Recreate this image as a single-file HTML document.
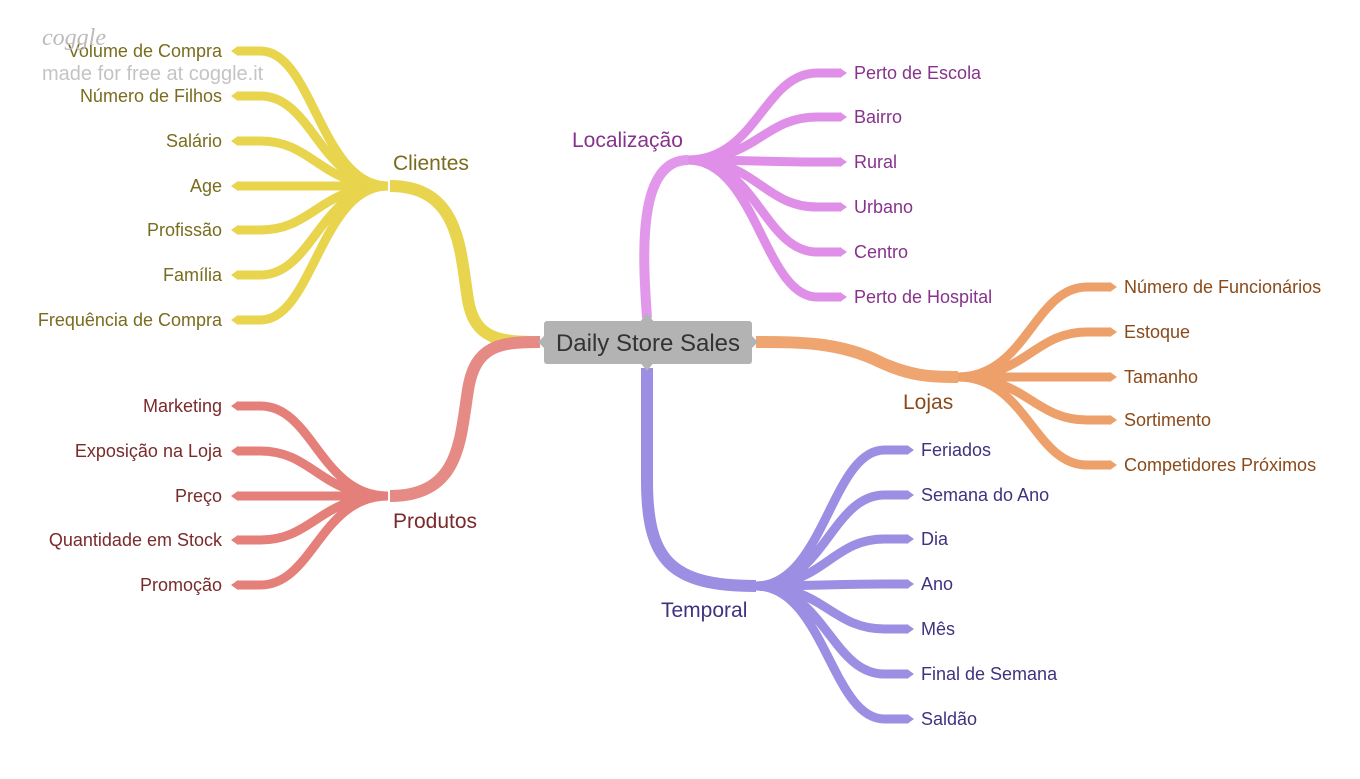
<!DOCTYPE html>
<html><head><meta charset="utf-8"><style>
html,body{margin:0;padding:0;background:#fff;}
svg{display:block;font-family:"Liberation Sans",sans-serif;}
</style></head><body>
<svg id="map" width="1360" height="779" viewBox="0 0 1360 779" xmlns="http://www.w3.org/2000/svg">
<g id="branches"></g>
<g id="labels"></g>
<g>
<rect x="544" y="321" width="208" height="43" rx="3" fill="#b3b3b3"/>
<path d="M538,342 L546,334 L546,350 Z M758,342 L750,334 L750,350 Z M647,313 L639,323 L655,323 Z M647,371 L639,361 L655,361 Z" fill="#b3b3b3"/>
<text x="648" y="351" text-anchor="middle" font-size="24" fill="#333">Daily Store Sales</text>
</g>
<text x="42" y="45" font-size="24" font-style="italic" fill="#bbb" font-family="Liberation Serif,serif">coggle</text>
<text x="42" y="80" font-size="20" fill="#c4c4c4">made for free at coggle.it</text>
</svg>
<script>
const topics = ["Clientes","Produtos","Localização","Lojas","Temporal"];
const clientesLeaves = ["Volume de Compra","Número de Filhos","Salário","Age","Profissão","Família","Frequência de Compra"];
const clientesY = [51,96,141,186,230,275,320];
const produtosLeaves = ["Marketing","Exposição na Loja","Preço","Quantidade em Stock","Promoção"];
const produtosY = [406,451,496,540,585];
const localLeaves = ["Perto de Escola","Bairro","Rural","Urbano","Centro","Perto de Hospital"];
const localY = [73,117,162,207,252,297];
const lojasLeaves = ["Número de Funcionários","Estoque","Tamanho","Sortimento","Competidores Próximos"];
const lojasY = [287,332,377,420,465];
const temporalLeaves = ["Feriados","Semana do Ano","Dia","Ano","Mês","Final de Semana","Saldão"];
const temporalY = [450,495,539,584,629,674,719];

const NS="http://www.w3.org/2000/svg";
const gB=document.getElementById('branches'), gL=document.getElementById('labels');
function path(d,color,w,name){
  const p=document.createElementNS(NS,'path');
  p.setAttribute('d',d);p.setAttribute('fill','none');p.setAttribute('stroke',color);
  p.setAttribute('stroke-width',w);p.setAttribute('stroke-linecap','butt');
  
  
  gB.appendChild(p);
}
function arrow(x,y,dir,color){
  const p=document.createElementNS(NS,'path');
  p.setAttribute('d',`M${x},${y-5} L${x+dir*7},${y} L${x},${y+5} Z`);
  p.setAttribute('fill',color);
  
  
  gB.appendChild(p);
}
function label(x,y,txt,color,size,anchor,name){
  const t=document.createElementNS(NS,'text');
  t.setAttribute('x',x);t.setAttribute('y',y);t.setAttribute('fill',color);
  t.setAttribute('font-size',size);t.setAttribute('text-anchor',anchor);
  t.textContent=txt;
  
  
  gL.appendChild(t);
}
function leaves(nx,ny,ex,names,ys,color,tcol,dir,anchor){
  names.forEach((n,i)=>{
    const y=ys[i], dx=ex-nx;
    path(`M${nx},${ny} C${nx+dx*0.45},${ny} ${nx+dx*0.5},${y} ${nx+dx*0.85},${y} L${ex},${y}`,color,9,'leaf-branch');
    arrow(ex,y,dir,color);
    label(ex+(dir>0?14:-16),y+6,n,tcol,18,anchor,'leaf-label');
  });
}
// main branches
path('M540,342 C500,342 475,340 468,300 C460,250 460,186 390,186','#e8d44d',12,'clientes-branch');
path('M540,342 C500,342 475,345 468,390 C460,440 460,496 390,496','#e58a84',12,'produtos-branch');
path('M647,318 C643,260 636,160 688,160','#e298ea',10,'localizacao-branch');
path('M756,342 C800,342 840,342 880,362 C910,376 930,377 958,377','#efa56f',12,'lojas-branch');
path('M647,368 L647,480 C647,560 670,586 756,586','#9b8ee3',12,'temporal-branch');
// leaves
leaves(388,186,238,clientesLeaves,clientesY,'#e8d44d','#7a6c1e',-1,'end');
leaves(388,496,238,produtosLeaves,produtosY,'#e57f7a','#7a2a2a',-1,'end');
leaves(688,160,840,localLeaves,localY,'#e08fe8','#86338c',1,'start');
leaves(958,377,1110,lojasLeaves,lojasY,'#eea06a','#8a4a1a',1,'start');
leaves(756,586,907,temporalLeaves,temporalY,'#9b8ee3','#3d3380',1,'start');
// topic labels
label(393,170,topics[0],'#7a6c1e',21,'start','clientes-label');
label(393,528,topics[1],'#7a2a2a',21,'start','produtos-label');
label(572,147,topics[2],'#86338c',21,'start','localizacao-label');
label(903,409,topics[3],'#8a4a1a',21,'start','lojas-label');
label(661,617,topics[4],'#3d3380',21,'start','temporal-label');
</script>
</body></html>
